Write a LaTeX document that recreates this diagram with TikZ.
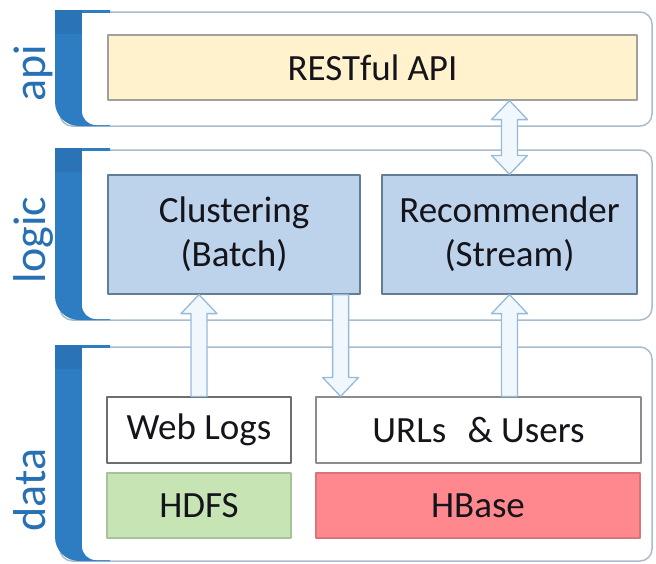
\documentclass[tikz,border=0pt]{standalone}
\usepackage{fontspec}
\setmainfont{Carlito}
\usetikzlibrary{calc}
\definecolor{barblue}{RGB}{46,125,194}
\definecolor{bartop}{RGB}{42,115,182}
\definecolor{labelblue}{RGB}{40,112,180}
\definecolor{panelline}{RGB}{168,188,206}
\definecolor{apifill}{RGB}{255,242,204}
\definecolor{logicfill}{RGB}{189,211,236}
\definecolor{hdfsfill}{RGB}{198,228,180}
\definecolor{hbasefill}{RGB}{255,136,142}
\definecolor{arrline}{RGB}{150,186,218}
\definecolor{arrfill}{RGB}{240,247,253}
\definecolor{boxtext}{RGB}{20,20,26}

% hollow block arrows, x taken from the first point
\newcommand{\arrUp}[2]{%
  \draw[hollow] let \p1=(#1), \p2=(#2) in
    (\x1-8pt,\y1) -- (\x1-8pt,\y2-19pt) -- (\x1-18pt,\y2-19pt) -- (\x1,\y2)
    -- (\x1+18pt,\y2-19pt) -- (\x1+8pt,\y2-19pt) -- (\x1+8pt,\y1) -- cycle;}
\newcommand{\arrDown}[2]{%
  \draw[hollow] let \p1=(#1), \p2=(#2) in
    (\x1-8pt,\y1) -- (\x1-8pt,\y2+19pt) -- (\x1-18pt,\y2+19pt) -- (\x1,\y2)
    -- (\x1+18pt,\y2+19pt) -- (\x1+8pt,\y2+19pt) -- (\x1+8pt,\y1) -- cycle;}
\newcommand{\arrBoth}[2]{%
  \draw[hollow] let \p1=(#1), \p2=(#2) in
    (\x1,\y1) -- (\x1-18pt,\y1+19pt) -- (\x1-8pt,\y1+19pt) -- (\x1-8pt,\y2-19pt)
    -- (\x1-18pt,\y2-19pt) -- (\x1,\y2) -- (\x1+18pt,\y2-19pt) -- (\x1+8pt,\y2-19pt)
    -- (\x1+8pt,\y1+19pt) -- (\x1+18pt,\y1+19pt) -- cycle;}

\begin{document}
\begin{tikzpicture}[x=1pt,y=-1pt,line join=round,
    box/.style={draw,inner sep=0pt,line width=1.2pt,text=boxtext,align=center,
      font=\fontsize{37}{44}\selectfont},
    side/.style={rotate=90,anchor=base,text=labelblue,font=\fontsize{46}{50}\selectfont},
    hollow/.style={draw=arrline,fill=arrfill,line width=1.3pt}]

    \useasboundingbox (0,0) rectangle (656,563);

    % layer panels
    \foreach \t/\b in {12/126,150/320,347/561}{
        \draw[panelline,line width=1.5pt,fill=white,rounded corners=12pt] (60,\t) -- (652,\t) -- (652,\b) -- (60,\b) -- cycle;
        \fill[barblue] (55,\t-2) -- (55,\b-24) arc[start angle=180,end angle=270,radius=24pt] -- (110,\b) -- (110,\t-2) -- cycle;
        \fill[bartop] (55,\t-2) rectangle (82,\t+22);
        \fill[white] (82,\t+1) -- (82,\b-15) arc[start angle=180,end angle=270,radius=14pt] -- (120,\b-1) -- (120,\t+1) -- cycle;
    }

    \node[side] (apilbl) at (45,73) {api};
    \node[side] (logiclbl) at (45,240) {logic};
    \node[side] (datalbl) at (45,490) {data};

    % boxes
    \node[box,fill=apifill,draw={rgb,255:red,160;green,160;blue,160},minimum width=529pt,minimum height=65pt] (api) at (372.5,67.5) {RESTful API};

    \node[box,fill=logicfill,draw={rgb,255:red,100;green,125;blue,150},minimum width=252pt,minimum height=119pt] (clust) at (234,234.5) {Clustering\\(Batch)};
    \node[box,fill=logicfill,draw={rgb,255:red,100;green,125;blue,150},minimum width=255pt,minimum height=119pt] (rec) at (509.5,234.5) {Recommender\\(Stream)};

    \node[box,fill=white,draw={rgb,255:red,110;green,110;blue,110},minimum width=184pt,minimum height=66pt] (weblogs) at (199,430) {Web Logs};
    \node[box,fill=white,draw={rgb,255:red,140;green,140;blue,140},minimum width=325pt,minimum height=66pt] (urls) at (478.5,430) {URLs\hspace{0.35em} \& Users};

    \node[box,fill=hdfsfill,draw=hdfsfill!85!black,minimum width=184pt,minimum height=65pt] (hdfs) at (199,505.5) {HDFS};
    \node[box,fill=hbasefill,draw=hbasefill!85!black,minimum width=324pt,minimum height=65pt] (hbase) at (478,505.5) {HBase};

    % arrows
    \arrBoth{rec.north}{api.south -| rec.north}
    \arrUp{weblogs.north}{clust.south}
    \arrDown{$(clust.south east)+(-20,0)$}{urls.north}
    \arrUp{urls.north -| rec.south}{rec.south}
\end{tikzpicture}
\end{document}
